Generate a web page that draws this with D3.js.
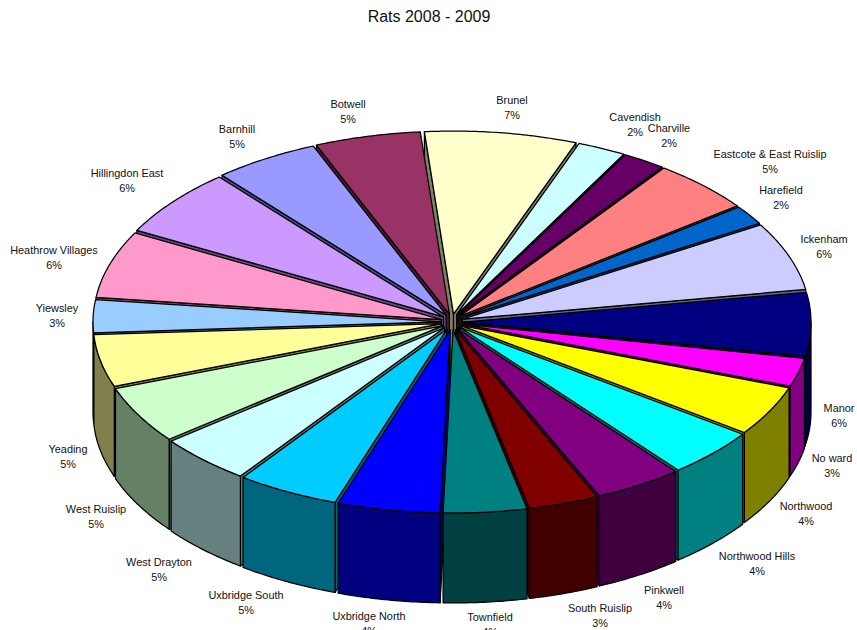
<!DOCTYPE html>
<html><head><meta charset="utf-8">
<script src="https://cdn.jsdelivr.net/npm/d3@7"></script>
<style>html,body{margin:0;padding:0;background:#fff;overflow:hidden}svg{display:block}text{font-family:"Liberation Sans",Arial,sans-serif;fill:#111}</style>
</head><body><svg id="c" width="857" height="630"></svg>
<script>
const title = "Rats 2008 - 2009";
const wards = ["Brunel","Cavendish","Charville","Eastcote & East Ruislip","Harefield","Ickenham","Manor","No ward","Northwood","Northwood Hills","Pinkwell","South Ruislip","Townfield","Uxbridge North","Uxbridge South","West Drayton","West Ruislip","Yeading","Yiewsley","Heathrow Villages","Hillingdon East","Barnhill","Botwell"];
const shares = [7.05,2.25,2.0,4.7,1.7,6.0,5.6,2.5,4.4,4.3,4.1,3.26,3.86,4.75,4.75,4.4,5.05,4.6,2.9,5.9,6.0,4.9,4.9];
const pctLabels = ["7%","2%","2%","5%","2%","6%","6%","3%","4%","4%","4%","3%","4%","4%","5%","5%","5%","5%","3%","6%","6%","5%","5%"];
const colors = ["#FFFFCC","#CCFFFF","#660066","#FF8080","#0066CC","#CCCCFF","#000080","#FF00FF","#FFFF00","#00FFFF","#800080","#800000","#008080","#0000FF","#00CCFF","#CCFFFF","#CCFFCC","#FFFF99","#99CCFF","#FF99CC","#CC99FF","#9999FF","#993366"];

// layout constants
const layout = {cx:452, cy:322, rx:348, ry:183, ex:11, ey:8, depth:90, start:-4.8*Math.PI/180};
const labelAnchors = [[512,104],[635,121],[669,132],[770,158],[781,194],[824,243],[839,412],[832,462],[806,510],[757,560],[664,594],[600,612],[490,621],[369,620],[246,599],[159,566],[96,513],[68,453],[57,312],[54,254],[127,177],[237,133],[348,108]];

const svg = d3.select("#c");
const sx = d3.scaleLinear().domain([-1,1]).range([layout.cx-layout.rx, layout.cx+layout.rx]);
const sy = d3.scaleLinear().domain([-1,1]).range([layout.cy+layout.ry, layout.cy-layout.ry]);
const pie = d3.pie().sort(null).value(d=>d).startAngle(layout.start).endAngle(layout.start+2*Math.PI);
const arcs = pie(shares).map((a,i)=>({...a,i,mid:(a.startAngle+a.endAngle)/2}));
const line = d3.line().x(d=>d[0]).y(d=>d[1]);

function pt(a,t,r,z){ // r is radius fraction, z is drop in pixels
  const mx = layout.ex*Math.sin(a.mid), my = layout.ey*Math.cos(a.mid);
  return [sx(r*Math.sin(t))+mx, sy(r*Math.cos(t))-my+z];
}
function rim(a,t0,t1,z){
  const n = Math.max(2,Math.ceil((t1-t0)/0.01));
  return d3.range(n+1).map(k=>pt(a,t0+(t1-t0)*k/n,1,z));
}
const shade = c => { const q=d3.rgb(c); return d3.rgb(q.r/2,q.g/2,q.b/2).formatHex(); };
const order = arcs.slice().sort((p,q)=>Math.cos(q.mid)-Math.cos(p.mid));
const style = s => s.attr("stroke","#000").attr("stroke-width",1.25).attr("stroke-linejoin","round");

const g = svg.append("g");
order.forEach(a=>{
  const dark = shade(colors[a.i]);
  const d = layout.depth;
  const apex = pt(a,0,0,0), apexB = pt(a,0,0,d);
  // radial faces
  if (Math.sin(a.startAngle)<0){
    const e = pt(a,a.startAngle,1,0), eB = pt(a,a.startAngle,1,d);
    g.append("path").attr("d",line([apex,apexB,eB,e])+"Z").attr("fill",dark).call(style);
  }
  if (Math.sin(a.endAngle)>0){
    const e = pt(a,a.endAngle,1,0), eB = pt(a,a.endAngle,1,d);
    g.append("path").attr("d",line([apex,apexB,eB,e])+"Z").attr("fill",dark).call(style);
  }
  // outer wall: only the front half of the rim
  const s = a.startAngle, en = a.endAngle;
  const lo = Math.max(s, Math.PI/2), hi = Math.min(en, 3*Math.PI/2);
  if (hi>lo){
    const up = rim(a,lo,hi,0), down = rim(a,lo,hi,d).reverse();
    g.append("path").attr("d",line(up.concat(down))+"Z").attr("fill",dark).call(style);
  }
  // top face
  g.append("path").attr("d",line([apex].concat(rim(a,s,en,0)))+"Z").attr("fill",colors[a.i]).call(style);
});

svg.append("text").attr("x",429).attr("y",22).attr("text-anchor","middle").attr("font-size",16).text(title);
const lab = svg.append("g").attr("font-size",10.9).attr("text-anchor","middle");
wards.forEach((w,i)=>{
  const [x,y] = labelAnchors[i];
  const t = lab.append("text").attr("x",x).attr("y",y);
  t.append("tspan").attr("x",x).text(w);
  t.append("tspan").attr("x",x).attr("dy",15).text(pctLabels[i]);
});
</script></body></html>
